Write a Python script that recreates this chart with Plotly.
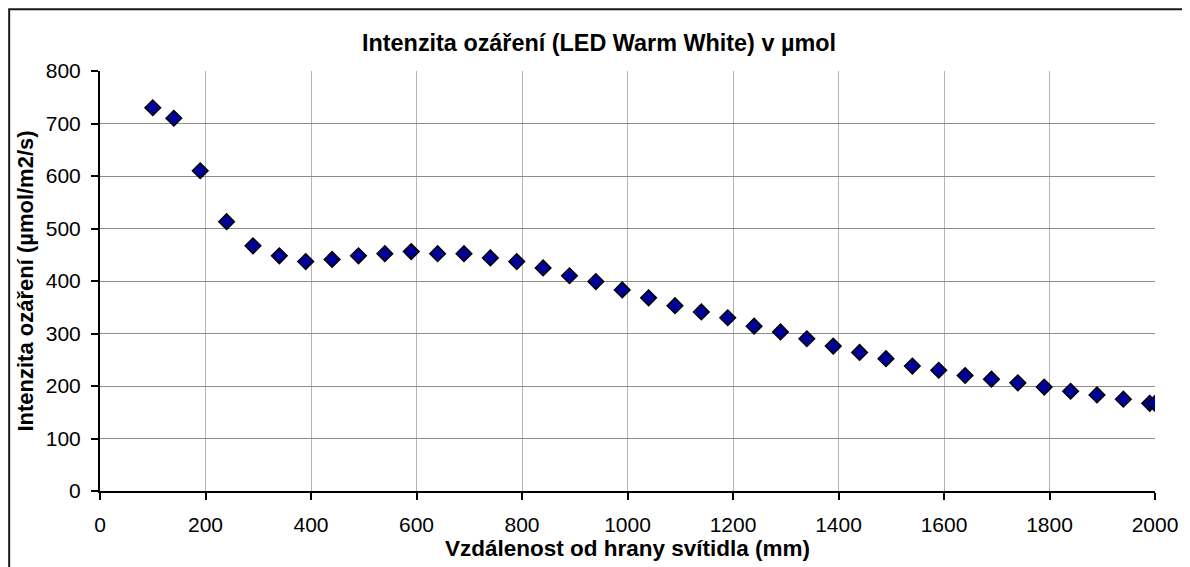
import plotly.graph_objects as go

distance_mm = [100, 140, 190, 240, 290, 340, 390, 440, 490, 540, 590, 640, 690, 740, 790,
               840, 890, 940, 990, 1040, 1090, 1140, 1190, 1240, 1290, 1340, 1390, 1440,
               1490, 1540, 1590, 1640, 1690, 1740, 1790, 1840, 1890, 1940, 1990, 2000]
intensity = [730, 710, 610, 513, 467, 448, 437, 441, 448, 452, 456, 452, 452, 444, 437,
             425, 410, 399, 383, 368, 353, 341, 330, 314, 303, 290, 276, 264,
             252, 238, 230, 220, 213, 206, 198, 190, 183, 175, 167, 167]

title_text = "Intenzita ozáření (LED Warm White) v µmol"
x_title = "Vzdálenost od hrany svítidla (mm)"
y_title = "Intenzita ozáření (µmol/m2/s)"

# The page body has an 8 px margin, so the figure is sized to fill the window
OFF = 8
W, H = 1190 - OFF, 567 - OFF
ML = 100 - OFF
MT = 71 - OFF
MR = W - (1157 - OFF)
MB = H - (492 - OFF)
pw, ph = W - ML - MR, H - MT - MB

FONT = "Liberation Sans, Arial, sans-serif"

fig = go.Figure()
fig.add_trace(go.Scatter(
    x=distance_mm, y=intensity, mode="markers",
    marker=dict(symbol="diamond", size=12, color="#000099",
                line=dict(color="#000000", width=1.5)),
    showlegend=False,
))

def px_x(p):
    return (p - OFF - ML) / pw

def px_y(p):
    return (H - MB - (p - OFF)) / ph

fig.update_layout(
    width=W, height=H,
    margin=dict(l=ML, r=MR, t=MT, b=MB),
    paper_bgcolor="white", plot_bgcolor="white",
    font=dict(family=FONT, color="black", size=21),
    title=dict(text="<b>" + title_text + "</b>", x=0.5, xanchor="center",
               xref="container", y=1 - (43 - OFF) / H, yanchor="middle",
               font=dict(size=23.4, family=FONT, color="black")),
    xaxis=dict(range=[0, 2000], dtick=200, tick0=0, showgrid=True,
               gridcolor="#b4b4b4", gridwidth=1, showline=True, linecolor="black",
               linewidth=2, ticks="outside", ticklen=7, tickwidth=2, tickcolor="black",
               zeroline=False, ticklabelstandoff=7,
               title=dict(text="<b>" + x_title + "</b>", standoff=3,
                          font=dict(size=22.5, family=FONT))),
    yaxis=dict(range=[0, 800], dtick=100, tick0=0, showgrid=True,
               gridcolor="#8c8c8c", gridwidth=1, showline=True, linecolor="black",
               linewidth=2, ticks="outside", ticklen=7, tickwidth=2, tickcolor="black",
               zeroline=False, ticklabelstandoff=6,
               title=dict(text="<b>" + y_title + "</b>", standoff=6,
                          font=dict(size=22, family=FONT))),
    shapes=[dict(type="rect", xref="paper", yref="paper",
                 x0=px_x(9), x1=px_x(1188), y0=px_y(580), y1=px_y(9),
                 line=dict(color="#1a1a1a", width=2), layer="below")],
)

fig.write_html("out.html")
